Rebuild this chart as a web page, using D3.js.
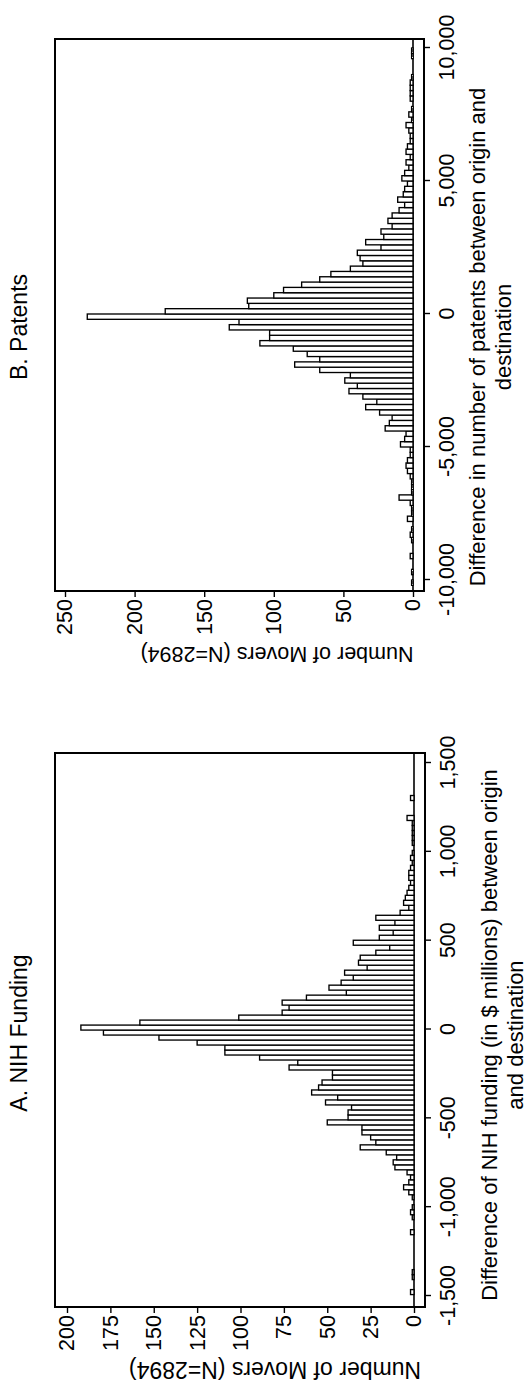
<!DOCTYPE html>
<html lang="en">
<head>
  <meta charset="UTF-8" />
  <title>Movers: NIH funding and patents</title>
  <script src="https://d3js.org/d3.v7.min.js"></script>
  <style>
    body {
      margin: 0;
      background: #fff;
    }
    svg {
      display: block;
      font-family: "Liberation Sans", Arial, Helvetica, sans-serif;
    }
    .bar {
      fill: #fff;
      stroke: #000;
      stroke-width: 1.35;
    }
    .frame {
      fill: none;
      stroke: #000;
      stroke-width: 2;
    }
    .axis .domain {
      display: none;
    }
    .axis line {
      stroke: #000;
      stroke-width: 1.4;
    }
    .axis text {
      fill: #000;
      font-size: 21.5px;
    }
  </style>
</head>
<body>
  <div id="chart"></div>

  <script>
    // Panel A: NIH funding difference, 100 equal bins from nihBinMin to nihBinMax
    const nihBinMin = -1492;
    const nihBinMax = 1317;
    const nihCounts = [
      2, 0, 0, 1, 1, 0, 0, 0, 0, 0,
      0, 0, 2, 0, 0, 1, 2, 1, 0, 1,
      3, 6, 3, 2, 4, 11, 12, 10, 16, 31,
      22, 25, 30, 30, 50, 38, 38, 36, 51, 44,
      59, 55, 53, 47, 47, 72, 67, 89, 109, 109,
      125, 147, 179, 192, 158, 101, 76, 72, 76, 62,
      39, 49, 42, 35, 40, 27, 32, 31, 22, 14,
      35, 20, 12, 20, 11, 22, 8, 3, 6, 5,
      4, 3, 2, 3, 3, 2, 1, 2, 1, 0,
      1, 1, 1, 1, 1, 4, 0, 0, 0, 2
    ];
    const nihTicks = [-1500, -1000, -500, 0, 500, 1000, 1500];
    const nihCountTicks = [0, 25, 50, 75, 100, 125, 150, 175, 200];

    // Panel B: patents difference, bins of 200 from patBinMin to patBinMax
    const patBinMin = -10400;
    const patBinMax = 10200;
    const patCounts = [
      0, 1, 0, 1, 0, 0, 2, 0, 0, 1,
      2, 1, 0, 4, 1, 1, 2, 10, 1, 1,
      1, 2, 4, 5, 4, 2, 2, 9, 6, 5,
      20, 17, 15, 24, 34, 26, 36, 46, 40, 49,
      45, 67, 85, 67, 76, 86, 110, 103, 103, 132,
      125, 234, 178, 118, 119, 100, 93, 80, 67, 59,
      45, 36, 38, 40, 23, 34, 21, 23, 15, 18,
      15, 10, 6, 11, 7, 6, 4, 8, 6, 3,
      5, 2, 5, 4, 2, 2, 3, 5, 1, 3,
      1, 0, 2, 2, 2, 2, 1, 0, 0, 0,
      1, 1, 0
    ];
    const patTicks = [-10000, -5000, 0, 5000, 10000];
    const patCountTicks = [0, 50, 100, 150, 200, 250];

    const yTitle = "Number of Movers (N=2894)";

    // the figure is drawn landscape, then turned a quarter turn to fit the portrait page
    const pageW = 528, pageH = 1388;
    const svg = d3.select("#chart").append("svg")
      .attr("width", pageW)
      .attr("height", pageH);
    const root = svg.append("g")
      .attr("transform", `translate(0,${pageH}) rotate(-90)`);

    const fmt = d3.formatLocale({ decimal: ".", thousands: ",", grouping: [3], currency: ["$", ""], minus: "-" }).format(",");

    function toBins(counts, lo, hi) {
      const w = (hi - lo) / counts.length;
      return counts.map((c, i) => ({ x0: lo + i * w, x1: lo + (i + 1) * w, n: c }));
    }

    function drawPanel(p) {
      const g = root.append("g");
      const x = d3.scaleLinear().domain(p.xDomain).range(p.xRange);
      const y = d3.scaleLinear().domain(p.yDomain).range(p.yRange);

      // baseline across the plot region
      g.append("line")
        .attr("x1", p.box[0]).attr("x2", p.box[1])
        .attr("y1", y(0)).attr("y2", y(0))
        .attr("stroke", "#000").attr("stroke-width", 1.6);

      g.selectAll("rect.bar")
        .data(p.bins.filter(d => d.n > 0))
        .join("rect")
        .attr("class", "bar")
        .attr("x", d => x(d.x0))
        .attr("width", d => x(d.x1) - x(d.x0))
        .attr("y", d => y(d.n))
        .attr("height", d => y(0) - y(d.n));

      g.append("rect")
        .attr("class", "frame")
        .attr("x", p.box[0]).attr("y", p.box[2])
        .attr("width", p.box[1] - p.box[0])
        .attr("height", p.box[3] - p.box[2]);

      g.append("g")
        .attr("class", "axis")
        .attr("transform", `translate(0,${p.box[3]})`)
        .call(d3.axisBottom(x).tickValues(p.xTicks).tickFormat(fmt).tickSize(6).tickPadding(9));

      g.append("g")
        .attr("class", "axis")
        .attr("transform", `translate(${p.box[0]},0)`)
        .call(d3.axisLeft(y).tickValues(p.yTicks).tickFormat(fmt).tickSize(6).tickPadding(2));

      g.append("text")
        .attr("transform", `translate(${p.yTitleAt[0]},${p.yTitleAt[1]}) rotate(-90)`)
        .attr("text-anchor", "middle")
        .attr("dy", "0.35em")
        .style("font-size", p.yTitleSize + "px")
        .text(yTitle);

      p.xTitle.forEach((line, i) => {
        g.append("text")
          .attr("x", p.xTitleX)
          .attr("y", p.xTitleY + i * 26)
          .attr("text-anchor", "middle")
          .style("font-size", "22px")
          .text(line);
      });

      g.append("text")
        .attr("x", p.titleX)
        .attr("y", 27)
        .attr("text-anchor", "middle")
        .style("font-size", "23px")
        .text(p.title);
    }

    drawPanel({
      title: "A. NIH Funding",
      titleX: 355,
      bins: toBins(nihCounts, nihBinMin, nihBinMax),
      xDomain: [-1500, 1500], xRange: [92, 625],
      yDomain: [0, 200], yRange: [414, 67],
      box: [81, 635, 55, 425],
      xTicks: nihTicks, yTicks: nihCountTicks,
      xTitle: ["Difference of NIH funding (in $ millions) between origin", "and destination"],
      xTitleX: 353, xTitleY: 497,
      yTitleAt: [18, 275], yTitleSize: 23
    });

    drawPanel({
      title: "B. Patents",
      titleX: 1061,
      bins: toBins(patCounts, patBinMin, patBinMax),
      xDomain: [-10000, 10000], xRange: [808, 1340],
      yDomain: [0, 250], yRange: [413, 65],
      box: [797, 1349, 55, 424],
      xTicks: patTicks, yTicks: patCountTicks,
      xTitle: ["Difference in number of patents between origin and", "destination"],
      xTitleX: 1051, xTitleY: 485,
      yTitleAt: [733, 277], yTitleSize: 21.5
    });
  </script>
</body>
</html>
